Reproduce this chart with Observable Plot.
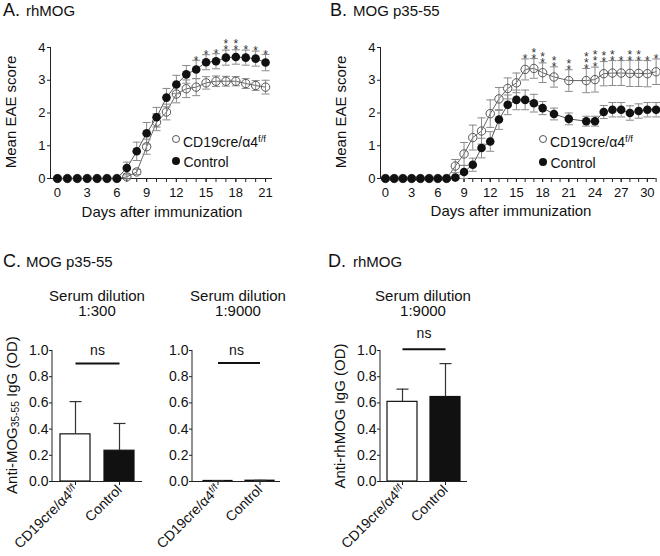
<!DOCTYPE html>
<html><head><meta charset="utf-8">
<script src="https://cdn.jsdelivr.net/npm/d3@7"></script>
<script src="https://cdn.jsdelivr.net/npm/@observablehq/plot@0.6"></script>
<style>
body{margin:0;background:#fff;}
#root{position:relative;width:660px;height:556px;overflow:hidden;font-family:"Liberation Sans",Arial,sans-serif;color:#111;background:#fff;}
.abs{position:absolute;white-space:nowrap;line-height:1;}
.plot{position:absolute;overflow:visible;}
.rot{transform:translate(-50%,-50%) rotate(-90deg);}
.ctr{transform:translateX(-50%);text-align:center;}
sup{font-size:0.68em;vertical-align:0.55em;line-height:0;}
sub{font-size:0.68em;vertical-align:-0.25em;line-height:0;}
.sym{position:absolute;width:8px;height:8px;border-radius:50%;box-sizing:border-box;}
</style></head><body><div id="root"></div>
<script>
// ---------- data ----------
const daysA = [0,1,2,3,4,5,6,7,8,9,10,11,12,13,14,15,16,17,18,19,20,21];
const koA = [0,0,0,0,0,0,0,0.05,0.2,0.97,1.72,2.03,2.58,2.74,2.79,2.92,2.97,2.97,2.97,2.9,2.84,2.79];
const koErrA = [0,0,0,0,0,0,0,0.06,0.08,0.23,0.26,0.24,0.27,0.27,0.26,0.19,0.16,0.15,0.14,0.15,0.15,0.21];
const ctrlA = [0,0,0,0,0,0,0,0.32,0.83,1.38,1.87,2.47,2.87,3.18,3.33,3.55,3.58,3.69,3.71,3.69,3.66,3.54];
const ctrlErrA = [0,0,0,0,0,0,0,0.18,0.28,0.33,0.3,0.28,0.28,0.27,0.28,0.23,0.23,0.23,0.22,0.23,0.23,0.25];
const starsA = [0,0,0,0,0,0,0,0,0,0,0,0,0,0,1,1,1,2,2,1,1,1];
const ticksA = [0,3,6,9,12,15,18,21];

const daysB = [0,1,2,3,4,5,6,7,8,9,10,11,12,13,14,15,16,17,18,19.3,21,23,24,25,26,27,28,29,30,31];
const koB = [0,0,0,0,0,0,0,0,0.38,0.75,1.25,1.45,1.98,2.43,2.75,2.92,3.33,3.36,3.23,3.1,2.99,2.99,3.02,3.2,3.22,3.22,3.21,3.21,3.2,3.26];
const koErrB = [0,0,0,0,0,0,0,0,0.2,0.35,0.38,0.4,0.42,0.35,0.32,0.3,0.32,0.3,0.3,0.31,0.33,0.37,0.38,0.37,0.38,0.38,0.4,0.4,0.4,0.39];
const ctrlB = [0,0,0,0,0,0,0,0,0.03,0.2,0.42,0.93,1.13,1.8,2.25,2.4,2.4,2.3,2.15,1.97,1.82,1.75,1.75,2.03,2.1,2.1,2.0,2.06,2.1,2.1];
const ctrlErrB = [0,0,0,0,0,0,0,0,0.03,0.2,0.2,0.3,0.3,0.3,0.3,0.3,0.3,0.27,0.2,0.18,0.18,0.15,0.15,0.2,0.22,0.22,0.22,0.22,0.22,0.22];
const starsB = [0,0,0,0,0,0,0,0,0,0,0,0,0,0,0,0,1,2,2,2,2,3,3,2,2,1,2,2,1,1];
const ticksB = [0,3,6,9,12,15,18,21,24,27,30];
const eaeTicksY = [0,1,2,3,4];

const groups = ["CD19cre/α4f/f", "Control"];
const mog300 = [0.36, 0.235];
const mog300Err = [0.25, 0.208];
const mog9000 = [0.004, 0.006];
const mog9000Err = [0.002, 0.003];
const rh9000 = [0.608, 0.645];
const rh9000Err = [0.097, 0.255];
const barTicksY = [0, 0.2, 0.4, 0.6, 0.8, 1.0];

// ---------- helpers ----------
const root = document.getElementById("root");
const FONT = "Liberation Sans, Arial, sans-serif";
const SVGNS = "http://www.w3.org/2000/svg";
function addDiv(html, css, cls) {
  const d = document.createElement("div");
  d.className = "abs " + (cls || "");
  d.innerHTML = html;
  Object.assign(d.style, css);
  root.appendChild(d);
  return d;
}
function place(svg, left, top) {
  svg.classList.add("plot");
  svg.style.left = left + "px";
  svg.style.top = top + "px";
  root.appendChild(svg);
}
function supFix(svg) {
  svg.querySelectorAll("text").forEach(t => {
    if (t.textContent === groups[0]) {
      while (t.firstChild) t.removeChild(t.firstChild);
      t.appendChild(document.createTextNode("CD19cre/α4"));
      const ts = document.createElementNS(SVGNS, "tspan");
      ts.setAttribute("dy", "-0.45em");
      ts.setAttribute("font-size", "0.68em");
      ts.textContent = "f/f";
      t.appendChild(ts);
    }
  });
}
const capSym = {draw(ctx) { ctx.moveTo(-4, 0); ctx.lineTo(4, 0); }};
const capBar = {draw(ctx) { ctx.moveTo(-6, 0); ctx.lineTo(6, 0); }};

function eaeChart({days, ko, koErr, ctrl, ctrlErr, stars, xDomain, xTicks, width, marginLeft, marginRight}) {
  const koRows = days.map((d, i) => ({day: d, v: ko[i], e: koErr[i]}));
  const ctrlRows = days.map((d, i) => ({day: d, v: ctrl[i], e: ctrlErr[i]}));
  const all = koRows.concat(ctrlRows).filter(r => r.e > 0);
  const starCols = [];
  days.forEach((d, i) => {
    if (stars[i] > 0) starCols.push({day: d, top: Math.max(ko[i] + koErr[i], ctrl[i] + ctrlErr[i]), n: stars[i]});
  });
  const minor = d3.range(0, Math.floor(xDomain[1]) + 1);
  return Plot.plot({
    width, height: 230, marginLeft, marginRight, marginTop: 47, marginBottom: 52,
    x: {domain: xDomain},
    y: {domain: [0, 4]},
    style: {fontFamily: FONT, background: "transparent", overflow: "visible", color: "#111"},
    marks: [
      Plot.ruleX([xDomain[0]], {y1: 0, y2: 4, stroke: "#222"}),
      Plot.ruleY([0], {stroke: "#222"}),
      Plot.axisY({ticks: eaeTicksY, tickFormat: d3.format("d"), tickSize: 3, tickPadding: 2, fontSize: 13, label: null, stroke: "#222"}),
      Plot.axisX({ticks: minor, tickFormat: () => "", tickSize: 4, label: null, stroke: "#222"}),
      Plot.axisX({ticks: xTicks, tickFormat: d3.format("d"), tickSize: 4, tickPadding: 5, fontSize: 13, label: null, stroke: "#222"}),
      Plot.line(koRows, {x: "day", y: "v", stroke: "#666", strokeWidth: 1}),
      Plot.line(ctrlRows, {x: "day", y: "v", stroke: "#555", strokeWidth: 1}),
      Plot.ruleX(all, {x: "day", y1: r => r.v - r.e, y2: r => r.v + r.e, stroke: "#8a8a8a", strokeWidth: 1}),
      Plot.dot(all, {x: "day", y: r => r.v + r.e, symbol: capSym, fill: "none", stroke: "#8a8a8a", strokeWidth: 1}),
      Plot.dot(all, {x: "day", y: r => r.v - r.e, symbol: capSym, fill: "none", stroke: "#8a8a8a", strokeWidth: 1}),
      Plot.dot(koRows, {x: "day", y: "v", r: 4.2, fill: "none", stroke: "#555", strokeWidth: 1}),
      Plot.dot(ctrlRows, {x: "day", y: "v", r: 4.3, fill: "#111", stroke: "none"}),
      Plot.text(starCols, {x: "day", y: "top", text: d => Array(d.n).fill("*").join("\n"), lineHeight: 0.5, lineAnchor: "bottom", fontSize: 12, fill: "#333", dy: 4.3})
    ]
  });
}

function barChart({vals, errs, width, marginLeft, marginRight, pi, po, align, nsY, nsLineY}) {
  const rows = groups.map((g, i) => ({g, v: vals[i], e: errs[i]}));
  const height = 236, marginTop = 30, marginBottom = 75;
  const svg = Plot.plot({
    width, height, marginLeft, marginRight, marginTop, marginBottom,
    x: {domain: groups, paddingInner: pi, paddingOuter: po, align},
    y: {domain: [0, 1]},
    style: {fontFamily: FONT, background: "transparent", overflow: "visible", color: "#111"},
    marks: [
      Plot.barY([rows[0]], {x: "g", y: "v", fill: "#fff", stroke: "#111", strokeWidth: 1.2}),
      Plot.barY([rows[1]], {x: "g", y: "v", fill: "#111", stroke: "#111", strokeWidth: 1.2}),
      Plot.ruleX(rows, {x: "g", y1: "v", y2: r => r.v + r.e, stroke: "#333", strokeWidth: 1.2}),
      Plot.dot(rows, {x: "g", y: r => r.v + r.e, symbol: capBar, fill: "none", stroke: "#333", strokeWidth: 1.2}),
      Plot.link([nsLineY], {x1: () => groups[0], x2: () => groups[1], y1: d => d, y2: d => d, stroke: "#111", strokeWidth: 2}),
      Plot.text(["ns"], {y: () => nsY, text: d => d, fontSize: 14, fill: "#111"}),
      Plot.ruleY([0], {stroke: "#222"}),
      Plot.axisY({ticks: barTicksY, tickFormat: d3.format(".1f"), tickSize: 3, tickPadding: 1, fontSize: 14, label: null, stroke: "#222"}),
      Plot.axisX({tickRotate: -45, tickSize: 4, tickPadding: 2, fontSize: 14, label: null, stroke: "#222"})
    ]
  });
  // y-axis line along the left edge of the frame
  const ln = document.createElementNS(SVGNS, "line");
  ln.setAttribute("x1", marginLeft); ln.setAttribute("x2", marginLeft);
  ln.setAttribute("y1", marginTop); ln.setAttribute("y2", height - marginBottom);
  ln.setAttribute("stroke", "#222");
  svg.appendChild(ln);
  supFix(svg);
  return svg;
}

// ---------- panels A & B ----------
place(eaeChart({days: daysA, ko: koA, koErr: koErrA, ctrl: ctrlA, ctrlErr: ctrlErrA, stars: starsA,
  xDomain: [-0.7, 21.7], xTicks: ticksA, width: 280, marginLeft: 50, marginRight: 8}), 0, 0);
place(eaeChart({days: daysB, ko: koB, koErr: koErrB, ctrl: ctrlB, ctrlErr: ctrlErrB, stars: starsB,
  xDomain: [-0.57, 31.0], xTicks: ticksB, width: 330, marginLeft: 50, marginRight: 4.4}), 330, 0);

// ---------- panels C & D ----------
place(barChart({vals: mog300, errs: mog300Err, width: 160, marginLeft: 52, marginRight: 18, pi: 0.32, po: 0.18, align: 0.5, nsY: 1.0, nsLineY: 0.9}), 0, 320);
place(barChart({vals: mog9000, errs: mog9000Err, width: 160, marginLeft: 52, marginRight: 20, pi: 0.3, po: 0.174, align: 0.67, nsY: 1.0, nsLineY: 0.905}), 140, 320);
place(barChart({vals: rh9000, errs: rh9000Err, width: 160, marginLeft: 52, marginRight: 21, pi: 0.3, po: 0.16, align: 0.5, nsY: 1.13, nsLineY: 1.01}), 328, 320);

// ---------- text ----------
addDiv("A.", {left: "3px", top: "1px", fontSize: "18px"});
addDiv("rhMOG", {left: "26px", top: "3.3px", fontSize: "15px"});
addDiv("B.", {left: "330px", top: "1px", fontSize: "18px"});
addDiv("MOG p35-55", {left: "353px", top: "3.3px", fontSize: "15px"});
addDiv("C.", {left: "3px", top: "251.8px", fontSize: "18px"});
addDiv("MOG p35-55", {left: "26px", top: "254.3px", fontSize: "15px"});
addDiv("D.", {left: "328px", top: "251.8px", fontSize: "18px"});
addDiv("rhMOG", {left: "353px", top: "254.3px", fontSize: "15px"});

addDiv("Mean EAE score", {left: "9.5px", top: "112px", fontSize: "15px"}, "rot");
addDiv("Mean EAE score", {left: "339.5px", top: "112px", fontSize: "15px"}, "rot");
addDiv("Days after immunization", {left: "162px", top: "204.3px", fontSize: "15px"}, "ctr");
addDiv("Days after immunization", {left: "511px", top: "203px", fontSize: "15px"}, "ctr");

addDiv("Anti-MOG<sub>35-55</sub> IgG (OD)", {left: "10.5px", top: "415px", fontSize: "15px"}, "rot");
addDiv("Anti-rhMOG IgG (OD)", {left: "338.5px", top: "416px", fontSize: "15px"}, "rot");

addDiv("Serum dilution<br>1:300", {left: "97px", top: "288.3px", fontSize: "15px", lineHeight: "15px"}, "ctr");
addDiv("Serum dilution<br>1:9000", {left: "238px", top: "288.3px", fontSize: "15px", lineHeight: "15px"}, "ctr");
addDiv("Serum dilution<br>1:9000", {left: "423px", top: "288.3px", fontSize: "15px", lineHeight: "15px"}, "ctr");

// legends
function legend(x, y1, y2) {
  const o = document.createElement("div"); o.className = "sym";
  Object.assign(o.style, {left: (x - 4) + "px", top: (y1 - 4) + "px", border: "1px solid #555"});
  root.appendChild(o);
  const f = document.createElement("div"); f.className = "sym";
  Object.assign(f.style, {left: (x - 4.3) + "px", top: (y2 - 4.3) + "px", width: "8.6px", height: "8.6px", background: "#111"});
  root.appendChild(f);
  addDiv("CD19cre/α4<sup>f/f</sup>", {left: (x + 7) + "px", top: (y1 - 4.5) + "px", fontSize: "14px"});
  addDiv("Control", {left: (x + 7.5) + "px", top: (y2 - 6) + "px", fontSize: "14px"});
}
legend(176, 139, 161);
legend(543, 139, 162);
</script></body></html>
